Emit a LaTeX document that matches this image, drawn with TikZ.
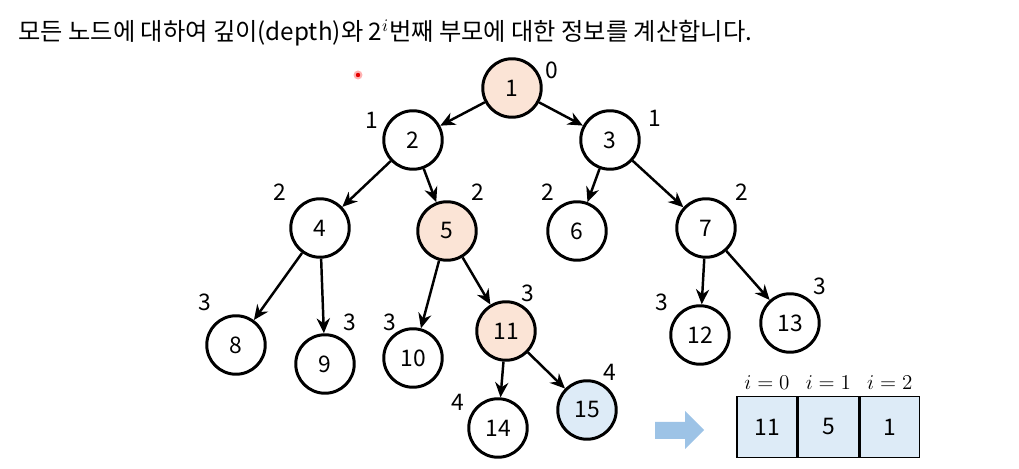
\documentclass[tikz,border=0pt]{standalone}
\usepackage{fontspec}
\setmainfont{Noto Sans CJK KR}
\usepackage{amsmath}
\usetikzlibrary{arrows.meta}

\definecolor{peach}{RGB}{251,228,214}
\definecolor{paleblue}{RGB}{221,235,247}
\definecolor{arrowblue}{RGB}{157,195,230}

\tikzset{
  tnode/.style={circle,draw,line width=1.7pt,minimum size=1.17cm,inner sep=0pt,fill=white,font=\fontsize{13}{15}\selectfont},
  depth/.style={font=\fontsize{13}{15}\selectfont},
  edge/.style={-{Stealth[length=8.5pt,width=7.5pt]},line width=1.4pt},
  cell/.style={draw,line width=0.8pt,fill=paleblue,minimum width=1.2cm,minimum height=1.22cm,inner sep=0pt,font=\fontsize{13}{15}\selectfont}
}

\begin{document}
\begin{tikzpicture}[x=0.02cm,y=-0.02cm,>=Stealth]
\useasboundingbox (0,0) rectangle (1019,469);
\node[anchor=west,inner sep=0pt,font=\fontsize{13.8}{16}\selectfont] (title) at (18,33)
  {모든 노드에 대하여 깊이(depth)와 2$^{i}$번째 부모에 대한 정보를 계산합니다.};
% tree
\node[tnode,fill=peach] (n1) at (512,88) {1};
\node[tnode] (n2) at (413,140) {2};
\node[tnode] (n3) at (610,140) {3};
\node[tnode] (n4) at (320,228) {4};
\node[tnode,fill=peach] (n5) at (447,231) {5};
\node[tnode] (n6) at (577,231) {6};
\node[tnode] (n7) at (706,228) {7};
\node[tnode] (n8) at (236,345) {8};
\node[tnode] (n9) at (325,364) {9};
\node[tnode] (n10) at (413,358) {10};
\node[tnode,fill=peach] (n11) at (506,331) {11};
\node[tnode] (n12) at (700,335) {12};
\node[tnode] (n13) at (790,323) {13};
\node[tnode] (n14) at (498,428) {14};
\node[tnode,fill=paleblue] (n15) at (587,410) {15};
\foreach \a/\b in {n1/n2,n1/n3,n2/n4,n2/n5,n3/n6,n3/n7,n4/n8,n4/n9,n5/n10,n5/n11,n7/n12,n7/n13,n11/n14,n11/n15}
  \draw[edge] (\a) -- (\b);
% depths
\node[depth] (d1) at (552,70) {0};
\node[depth] (d2) at (372,120) {1};
\node[depth] (d3) at (655,118) {1};
\node[depth] (d4) at (280,192) {2};
\node[depth] (d5) at (478,192) {2};
\node[depth] (d6) at (548,192) {2};
\node[depth] (d7) at (742,192) {2};
\node[depth] (d8) at (205,302) {3};
\node[depth] (d9) at (350,322) {3};
\node[depth] (d10) at (390,322) {3};
\node[depth] (d11) at (528,293) {3};
\node[depth] (d12) at (662,302) {3};
\node[depth] (d13) at (820,286) {3};
\node[depth] (d14) at (458,402) {4};
\node[depth] (d15) at (610,372) {4};
% pointer dot
\fill[red!30] (358,75) circle (4.5);
\fill[red!90!black] (358,75) circle (2.2);
% arrow and table
\fill[arrowblue] (655,422)--(685,422)--(685,411)--(704,430)--(685,449)--(685,439)--(655,439)--cycle;
\node[cell] (c0) at (767,427) {11};
\node[cell,anchor=west] (c1) at (c0.east) {5};
\node[cell,anchor=west] (c2) at (c1.east) {1};
\foreach \c/\i in {c0/0,c1/1,c2/2}
  \node[above=0pt,font=\fontsize{12.5}{15}\selectfont] (l\i) at (\c.north) {$i=\i$};
\end{tikzpicture}
\end{document}
